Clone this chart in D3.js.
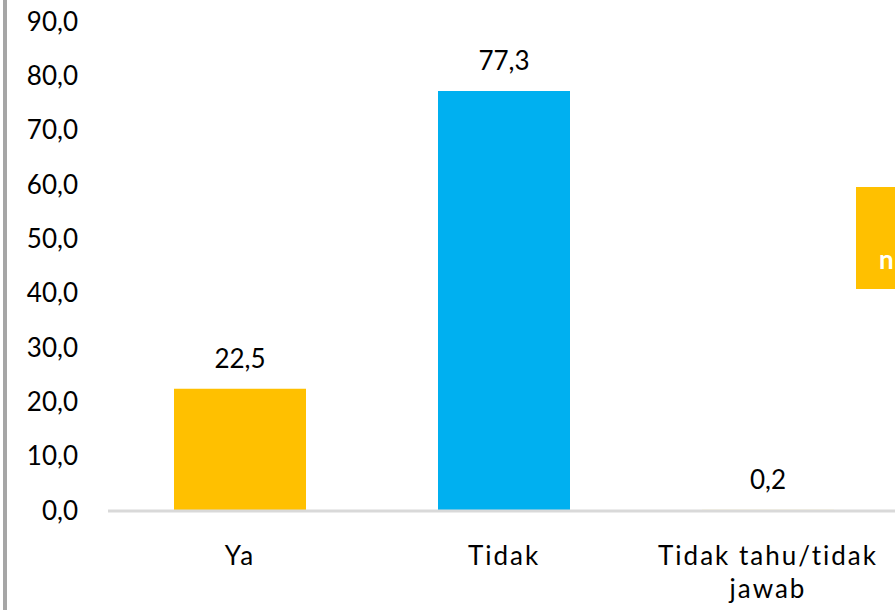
<!DOCTYPE html>
<html>
<head>
<meta charset="utf-8">
<script src="https://cdn.jsdelivr.net/npm/d3@7"></script>
<style>
  body { margin: 0; background: #fff; }
  svg { display: block; font-family: "Lato", "Noto Sans", sans-serif; }
</style>
</head>
<body>
<div id="chart"></div>
<script>
// data
let categories = ["Ya", "Tidak", "Tidak tahu/tidak jawab"];
let values = [22.5, 77.3, 0.2];
let barColors = ["#FFC000", "#00B0F0", "#FFC000"];
let yTicks = [0, 10, 20, 30, 40, 50, 60, 70, 80, 90];

let width = 895, height = 610;
let fontSize = 26;

let locale = d3.formatLocale({decimal: ",", thousands: ".", grouping: [3], currency: ["", ""]});
let fmt = locale.format(".1f");

let svg = d3.select("#chart")
    .append("svg")
    .attr("width", width)
    .attr("height", height);

let x = d3.scaleBand()
    .domain(categories)
    .range([108, 900])
    .paddingInner(0.5)
    .paddingOuter(0.25);

let y = d3.scaleLinear()
    .domain([0, 90])
    .range([511, 22]);

// left border line
svg.append("line")
    .attr("x1", 5).attr("x2", 5)
    .attr("y1", 0).attr("y2", height)
    .attr("stroke", "#a6a6a6")
    .attr("stroke-width", 4);

// y axis labels (no line)
let yAxis = svg.append("g")
    .attr("transform", "translate(78,0)")
    .call(d3.axisLeft(y).tickValues(yTicks).tickFormat(fmt).tickSize(0).tickPadding(0));
yAxis.select(".domain").remove();
yAxis.selectAll("text")
    .attr("font-size", fontSize)
    .attr("font-family", "Lato, 'Noto Sans', sans-serif")
    .attr("fill", "#000");

// bars
svg.selectAll("rect.bar")
    .data(values)
    .enter()
    .append("rect")
    .attr("class", "bar")
    .attr("x", function(d, i) { return x(categories[i]); })
    .attr("y", function(d) { return y(d); })
    .attr("width", x.bandwidth())
    .attr("height", function(d) { return y(0) - y(d); })
    .attr("fill", function(d, i) { return barColors[i]; });

// baseline
svg.append("line")
    .attr("x1", 108).attr("x2", width)
    .attr("y1", y(0)).attr("y2", y(0))
    .attr("stroke", "#d9d9d9")
    .attr("stroke-width", 3);

// value labels
svg.selectAll("text.val")
    .data(values)
    .enter()
    .append("text")
    .attr("class", "val")
    .attr("x", function(d, i) { return x(categories[i]) + x.bandwidth() / 2; })
    .attr("y", function(d) { return y(d) - 21; })
    .attr("text-anchor", "middle")
    .attr("font-size", fontSize)
    .attr("fill", "#000")
    .text(function(d) { return fmt(d); });

// category labels
let catLines = [["Ya"], ["Tidak"], ["Tidak tahu/tidak", "jawab"]];
svg.selectAll("text.cat")
    .data(categories)
    .enter()
    .append("text")
    .attr("class", "cat")
    .attr("x", function(d) { return x(d) + x.bandwidth() / 2; })
    .attr("y", 565)
    .attr("text-anchor", "middle")
    .attr("font-size", fontSize)
    .attr("letter-spacing", 2)
    .attr("fill", "#000")
    .each(function(d, i) {
        let t = d3.select(this);
        catLines[i].forEach(function(line, j) {
            t.append("tspan")
                .attr("x", x(d) + x.bandwidth() / 2)
                .attr("dy", j === 0 ? 0 : 33)
                .text(line);
        });
    });

// cropped box on the right
svg.append("rect")
    .attr("x", 856).attr("y", 187)
    .attr("width", 40).attr("height", 102)
    .attr("fill", "#FFC000");
svg.append("text")
    .attr("x", 879).attr("y", 269)
    .attr("font-size", 26)
    .attr("font-weight", "bold")
    .attr("fill", "#fff")
    .text("n");
</script>
</body>
</html>
